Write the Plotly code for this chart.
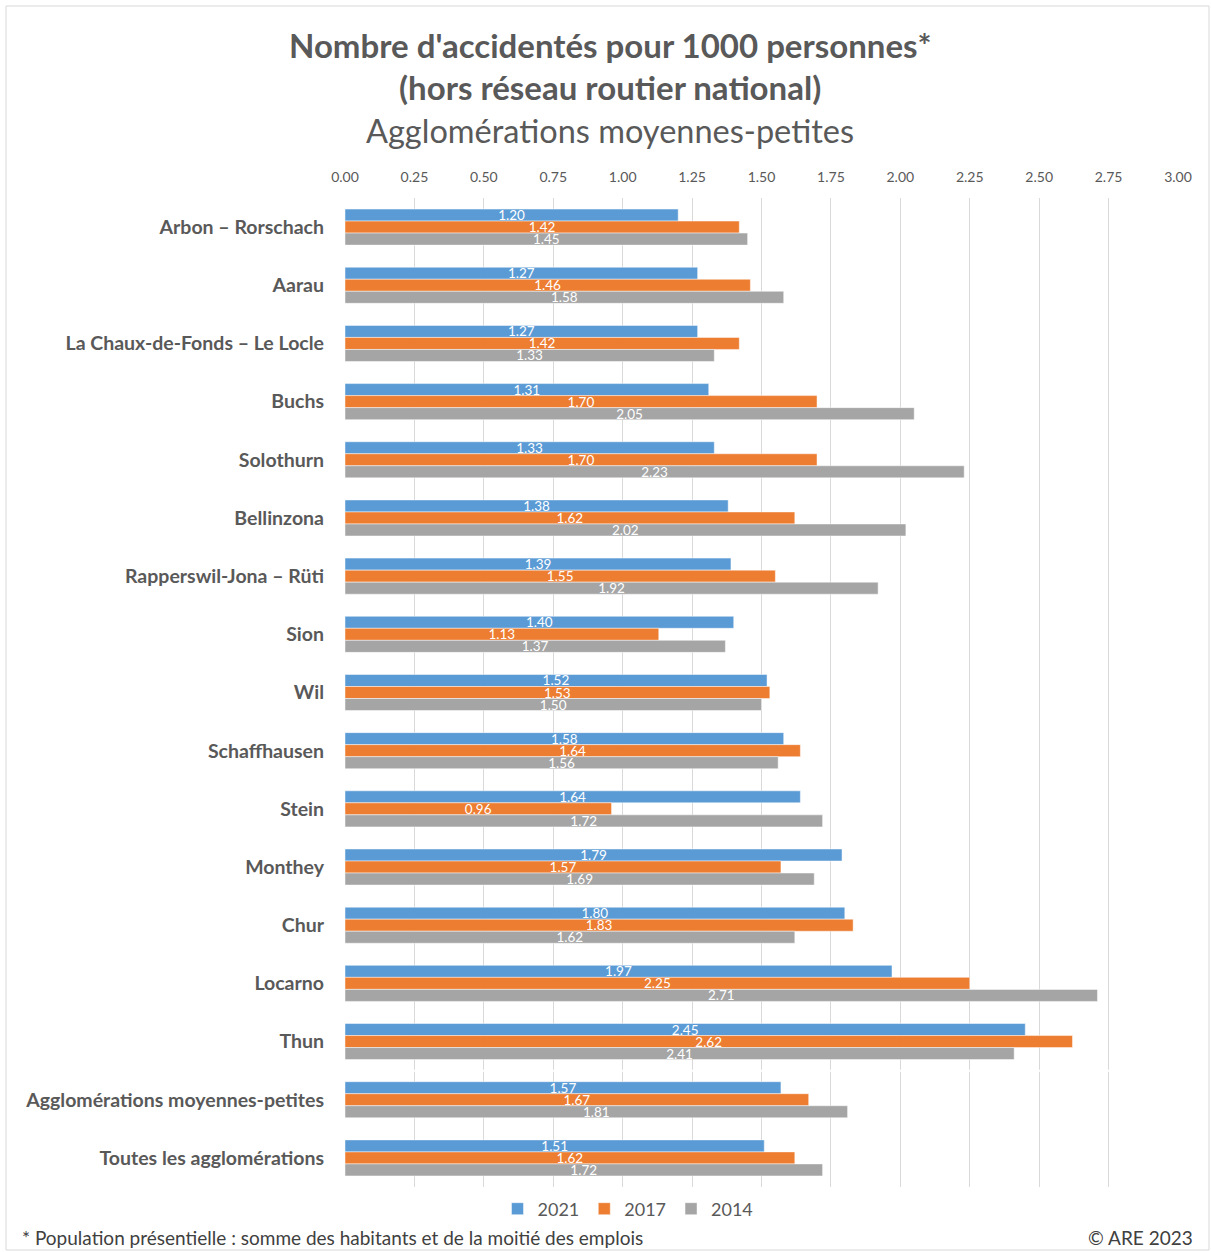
import plotly.graph_objects as go

categories = [
    "Arbon – Rorschach", "Aarau", "La Chaux-de-Fonds – Le Locle", "Buchs",
    "Solothurn", "Bellinzona", "Rapperswil-Jona – Rüti", "Sion", "Wil",
    "Schaffhausen", "Stein", "Monthey", "Chur", "Locarno", "Thun",
    "Agglomérations moyennes-petites", "Toutes les agglomérations",
]
v2021 = [1.20, 1.27, 1.27, 1.31, 1.33, 1.38, 1.39, 1.40, 1.52, 1.58, 1.64, 1.79, 1.80, 1.97, 2.45, 1.57, 1.51]
v2017 = [1.42, 1.46, 1.42, 1.70, 1.70, 1.62, 1.55, 1.13, 1.53, 1.64, 0.96, 1.57, 1.83, 2.25, 2.62, 1.67, 1.62]
v2014 = [1.45, 1.58, 1.33, 2.05, 2.23, 2.02, 1.92, 1.37, 1.50, 1.56, 1.72, 1.69, 1.62, 2.71, 2.41, 1.81, 1.72]
series = [("2021", v2021, "#5B9BD5"), ("2017", v2017, "#ED7D31"), ("2014", v2014, "#A5A5A5")]
tick_vals = [0, 0.25, 0.5, 0.75, 1.0, 1.25, 1.5, 1.75, 2.0, 2.25, 2.5, 2.75, 3.0]

FONT = "Lato"
fig = go.Figure()
for name, vals, col in series:
    fig.add_trace(go.Bar(
        y=categories, x=vals, name=name, orientation="h",
        marker=dict(color=col, line=dict(color="rgba(255,255,255,0.6)", width=0.8)),
        text=[f"{v:.2f}" for v in vals], textposition="inside",
        insidetextanchor="middle", textangle=0,
        textfont=dict(color="white", size=13.5, family=FONT),
        cliponaxis=False,
    ))

PW, PH = 833, 989  # plot area size in px

def px(xp):
    return (xp - 345) / PW

def py(yp):
    return (1187 - yp) / PH

fig.update_layout(
    width=1211, height=1252,
    barmode="group", bargap=0.38, bargroupgap=0,
    plot_bgcolor="white", paper_bgcolor="white",
    margin=dict(l=345, r=33, t=198, b=65),
    font=dict(family=FONT, color="#595959"),
    showlegend=True,
    legend=dict(orientation="h", x=px(628), xanchor="center", y=py(1209), yanchor="middle",
                font=dict(size=18, color="#595959"), traceorder="normal",
                itemwidth=30, tracegroupgap=0),
    uniformtext=dict(minsize=8, mode="show"),
)
fig.update_xaxes(
    side="top", range=[0, 3.0], tickvals=tick_vals,
    ticktext=[f"{t:.2f}" for t in tick_vals],
    tickfont=dict(size=14, color="#595959"),
    showgrid=True, gridcolor="#D9D9D9", gridwidth=1,
    zeroline=False, showline=False, ticks="", ticklabelstandoff=12,
)
fig.update_yaxes(
    categoryorder="array", categoryarray=categories, autorange="reversed",
    tickfont=dict(size=19.5, color="#595959", family=FONT),
    showgrid=False, showline=False, ticks="", ticklabelstandoff=20,
    tickvals=categories, ticktext=[f"<b>{c}</b>" for c in categories],
)

# small gap in gridlines between Thun and summary rows
fig.add_shape(type="line", xref="paper", yref="y", x0=0, x1=1, y0=14.5, y1=14.5,
              line=dict(color="white", width=2))

# border
fig.add_shape(type="rect", xref="paper", yref="paper",
              x0=px(6), x1=px(1209), y0=py(1250), y1=py(6),
              line=dict(color="#D9D9D9", width=1), fillcolor="rgba(0,0,0,0)", layer="below")

fig.add_annotation(text="<b>Nombre d'accidentés pour 1000 personnes*</b>", xref="paper", yref="paper",
                   x=px(610), y=py(45), showarrow=False, xanchor="center", yanchor="middle",
                   font=dict(size=33, color="#595959"))
fig.add_annotation(text="<b>(hors réseau routier national)</b>", xref="paper", yref="paper",
                   x=px(610), y=py(87), showarrow=False, xanchor="center", yanchor="middle",
                   font=dict(size=33, color="#595959"))
fig.add_annotation(text="Agglomérations moyennes-petites", xref="paper", yref="paper",
                   x=px(610), y=py(130), showarrow=False, xanchor="center", yanchor="middle",
                   font=dict(size=32.5, color="#595959"))
fig.add_annotation(text="* Population présentielle : somme des habitants et de la moitié des emplois",
                   xref="paper", yref="paper", x=px(20), y=py(1237),
                   showarrow=False, xanchor="left", yanchor="middle",
                   font=dict(size=19, color="#404040"))
fig.add_annotation(text="© ARE 2023", xref="paper", yref="paper", x=px(1195), y=py(1237),
                   showarrow=False, xanchor="right", yanchor="middle",
                   font=dict(size=19, color="#404040"))

fig.write_html("out.html", config={"displayModeBar": False},
               post_script="document.body.style.margin='0';document.body.style.padding='0';")
